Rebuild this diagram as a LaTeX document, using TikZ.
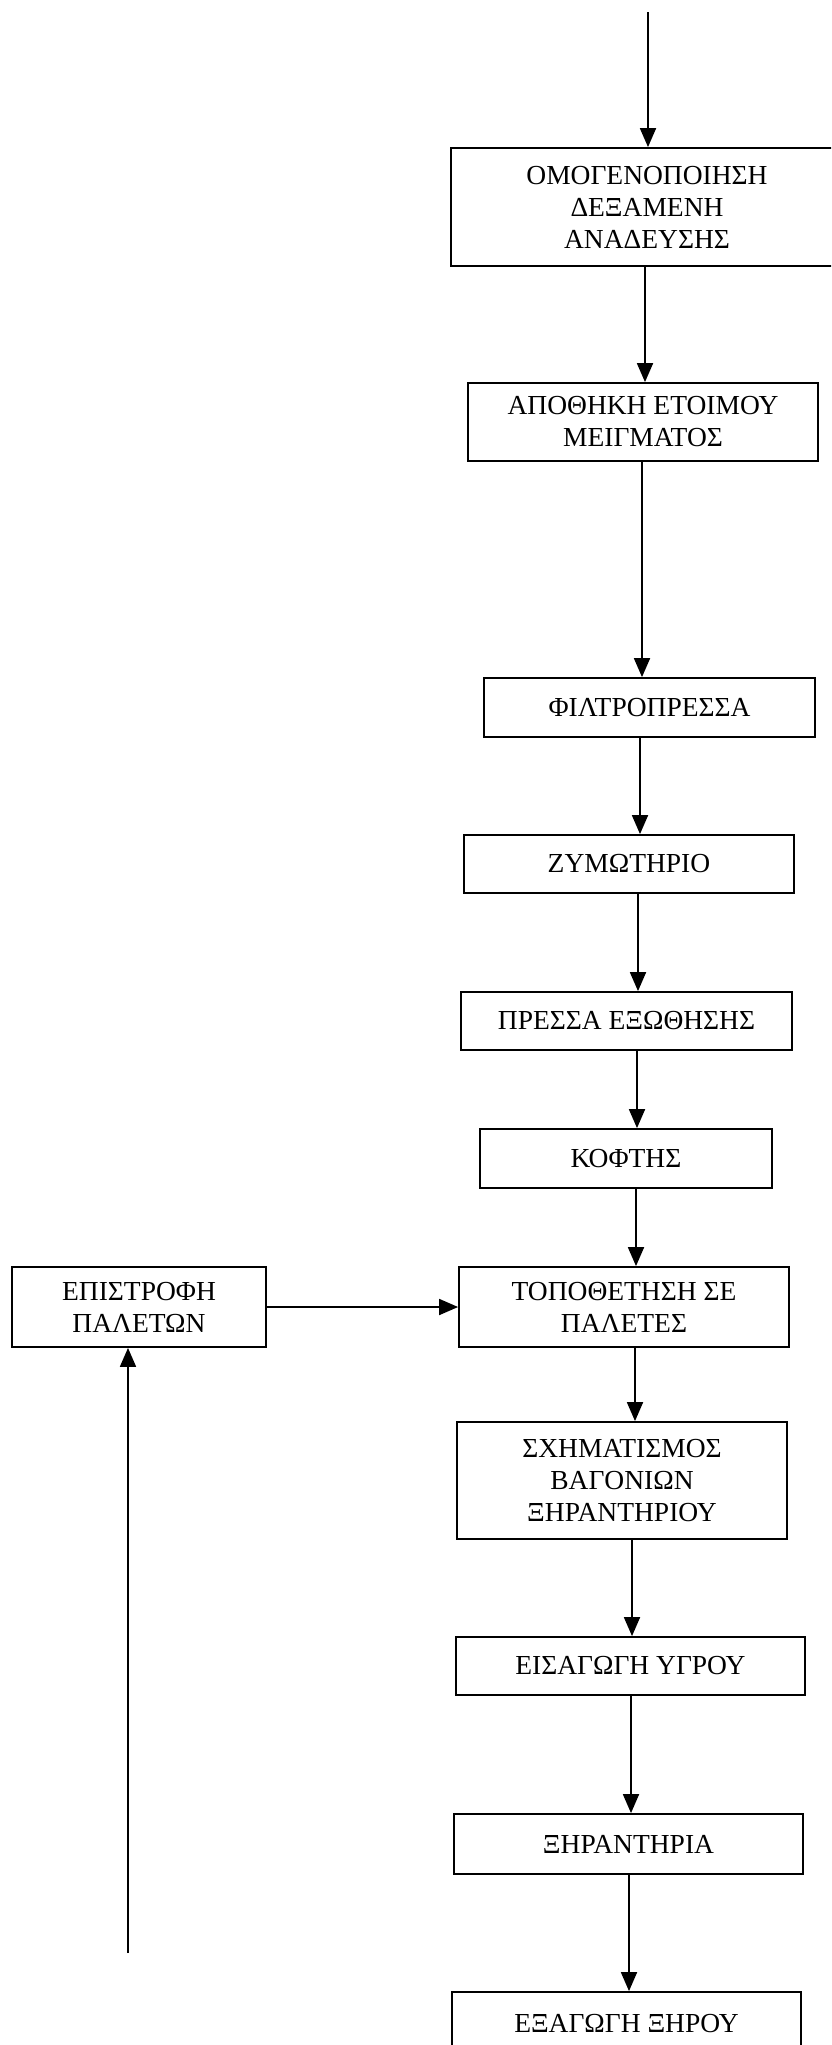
\documentclass[tikz,border=0pt]{standalone}
\usepackage{fontspec}
\setmainfont{Liberation Serif}
\usetikzlibrary{arrows.meta}
\begin{document}
\begin{tikzpicture}[x=1pt,y=-1pt,
  box/.style={draw, line width=1.8pt, rectangle, align=center, inner sep=0pt,
    font=\fontsize{27.5}{32}\selectfont},
  arr/.style={line width=1.8pt, -{Triangle[length=19pt,width=16pt]}}
]
\useasboundingbox (0,0) rectangle (831,2045);
\fill[white] (0,0) rectangle (831,2045);
\clip (0,0) rectangle (831,2045);

% nodes
\node[box, minimum width=392pt, minimum height=118pt] (n1) at (647,207) {ΟΜΟΓΕΝΟΠΟΙΗΣΗ\\ΔΕΞΑΜΕΝΗ\\ΑΝΑΔΕΥΣΗΣ};
\node[box, minimum width=350pt, minimum height=78pt] (n2) at (643,422) {ΑΠΟΘΗΚΗ ΕΤΟΙΜΟΥ\\ΜΕΙΓΜΑΤΟΣ};
\node[box, minimum width=331pt, minimum height=59pt] (n3) at (649.5,707.5) {ΦΙΛΤΡΟΠΡΕΣΣΑ};
\node[box, minimum width=330pt, minimum height=58pt] (n4) at (629,864) {ΖΥΜΩΤΗΡΙΟ};
\node[box, minimum width=331pt, minimum height=58pt] (n5) at (626.5,1021) {ΠΡΕΣΣΑ ΕΞΩΘΗΣΗΣ};
\node[box, minimum width=292pt, minimum height=59pt] (n6) at (626,1158.5) {ΚΟΦΤΗΣ};
\node[box, minimum width=330pt, minimum height=80pt] (n7) at (624,1307) {ΤΟΠΟΘΕΤΗΣΗ ΣΕ\\ΠΑΛΕΤΕΣ};
\node[box, minimum width=330pt, minimum height=117pt] (n8) at (622,1480.5) {ΣΧΗΜΑΤΙΣΜΟΣ\\ΒΑΓΟΝΙΩΝ\\ΞΗΡΑΝΤΗΡΙΟΥ};
\node[box, minimum width=349pt, minimum height=58pt] (n9) at (630.5,1666) {ΕΙΣΑΓΩΓΗ ΥΓΡΟΥ};
\node[box, minimum width=349pt, minimum height=60pt] (n10) at (628.5,1844) {ΞΗΡΑΝΤΗΡΙΑ};
\node[box, minimum width=349pt, minimum height=64pt] (n11) at (626.5,2024) {ΕΞΑΓΩΓΗ ΞΗΡΟΥ};
\node[box, minimum width=254pt, minimum height=80pt] (ret) at (139,1307) {ΕΠΙΣΤΡΟΦΗ\\ΠΑΛΕΤΩΝ};

% connector x positions and free ends
\coordinate (start) at (648,12);
\coordinate (c1) at (645,0);
\coordinate (c2) at (642,0);
\coordinate (c3) at (640,0);
\coordinate (c4) at (638,0);
\coordinate (c5) at (637,0);
\coordinate (c6) at (636,0);
\coordinate (c7) at (635,0);
\coordinate (c8) at (632,0);
\coordinate (c9) at (631,0);
\coordinate (c10) at (629,0);
\coordinate (retstart) at (128,1953);

% connectors
\draw[arr] (start) -- (n1.north -| start);
\draw[arr] (n1.south -| c1) -- (n2.north -| c1);
\draw[arr] (n2.south -| c2) -- (n3.north -| c2);
\draw[arr] (n3.south -| c3) -- (n4.north -| c3);
\draw[arr] (n4.south -| c4) -- (n5.north -| c4);
\draw[arr] (n5.south -| c5) -- (n6.north -| c5);
\draw[arr] (n6.south -| c6) -- (n7.north -| c6);
\draw[arr] (n7.south -| c7) -- (n8.north -| c7);
\draw[arr] (n8.south -| c8) -- (n9.north -| c8);
\draw[arr] (n9.south -| c9) -- (n10.north -| c9);
\draw[arr] (n10.south -| c10) -- (n11.north -| c10);
\draw[arr] (ret.east) -- (n7.west);
\draw[arr] (retstart) -- (ret.south -| retstart);
\end{tikzpicture}
\end{document}
